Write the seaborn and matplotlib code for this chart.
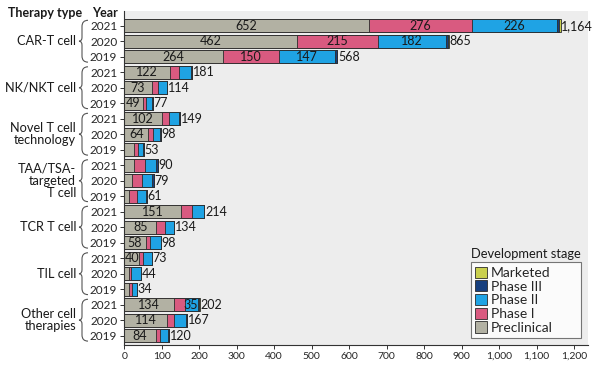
import numpy as np
import pandas as pd
import matplotlib
matplotlib.use("Agg")
import matplotlib.pyplot as plt
import matplotlib.transforms as mtransforms
from matplotlib.path import Path
from matplotlib.patches import Patch, PathPatch
import seaborn as sns

# === Data ===
therapies = ["CAR-T cell", "NK/NKT cell", "Novel T cell\ntechnology",
             "TAA/TSA-\ntargeted\nT cell", "TCR T cell", "TIL cell",
             "Other cell\ntherapies"]
years = ["2021", "2020", "2019"]

preclinical = [652, 462, 264, 122, 73, 49, 102, 64, 26, 25, 21, 14,
               151, 85, 58, 40, 14, 14, 134, 114, 84]
phase1 = [276, 215, 150, 23, 17, 8, 18, 14, 12, 31, 27, 20,
          30, 24, 12, 9, 5, 8, 27, 20, 12]
phase2 = [226, 182, 147, 34, 23, 18, 27, 18, 12, 29, 27, 24,
          32, 24, 28, 24, 25, 12, 35, 32, 22]
phase3 = [6, 5, 6, 2, 1, 2, 2, 2, 3, 5, 4, 3,
          1, 1, 0, 0, 0, 0, 4, 1, 2]
marketed = [4, 1, 1, 0, 0, 0, 0, 0, 0, 0, 0, 0,
            0, 0, 0, 0, 0, 0, 2, 0, 0]
totals = [1164, 865, 568, 181, 114, 77, 149, 98, 53, 90, 79, 61,
          214, 134, 98, 73, 44, 34, 202, 167, 120]

# which inside labels are printed in the original
show_pre = [1, 1, 1, 1, 1, 1, 1, 1, 0, 0, 0, 0,
            1, 1, 1, 1, 0, 0, 1, 1, 1]
show_p1 = [1, 1, 1] + [0] * 18
show_p2 = [1, 1, 1] + [0] * 15 + [1, 0, 0]

colors = {
    "Marketed": "#c9cf4e",
    "Phase III": "#173f7e",
    "Phase II": "#1fa3e4",
    "Phase I": "#d95a80",
    "Preclinical": "#b2b1a3",
}

# === Build table ===
rows = [f"{t}|{y}" for t in therapies for y in years]
df = pd.DataFrame({
    "row": rows,
    "Preclinical": preclinical,
    "Phase I": phase1,
    "Phase II": phase2,
    "Phase III": phase3,
    "Marketed": marketed,
})
stages = ["Preclinical", "Phase I", "Phase II", "Phase III", "Marketed"]
cum = df[stages].cumsum(axis=1)

sns.set_style("white")
plt.rcParams["font.family"] = ["Lato", "DejaVu Sans"]

fig = plt.figure(figsize=(6, 3.73), dpi=100)
ax = fig.add_axes([0.207, 0.0751, 0.773, 0.8954])
ax.set_facecolor("#ededed")

# stacked bars: draw cumulative totals from the top stage down
for stage in stages[::-1]:
    sns.barplot(x=cum[stage], y=df["row"], order=rows, orient="h",
                color=colors[stage], edgecolor="#2b2b2b", linewidth=0.6,
                width=0.84, saturation=1, ax=ax)

# labels inside segments
fs = 9
for i in range(len(rows)):
    if show_pre[i]:
        ax.text(preclinical[i] / 2, i, str(preclinical[i]), ha="center",
                va="center", fontsize=fs, color="#1a1a1a")
    if show_p1[i]:
        ax.text(cum["Preclinical"][i] + phase1[i] / 2, i, str(phase1[i]),
                ha="center", va="center", fontsize=fs, color="#1a1a1a")
    if show_p2[i]:
        ax.text(cum["Phase I"][i] + phase2[i] / 2, i, str(phase2[i]),
                ha="center", va="center", fontsize=fs, color="#1a1a1a")
    ax.text(cum["Marketed"][i] + 2, i, f"{totals[i]:,}", ha="left",
            va="center", fontsize=fs, color="#1a1a1a")

ax.set_xlim(0, 1237)
ax.set_ylim(20.6, -0.95)
ax.set_xticks(range(0, 1300, 100))
ax.set_xticklabels([f"{v:,}" for v in range(0, 1300, 100)], fontsize=7.5)
ax.set_yticks(range(len(rows)))
ax.set_yticklabels(years * len(therapies), fontsize=8.5)
ax.set_xlabel("")
ax.set_ylabel("")
ax.tick_params(axis="both", length=3, width=0.7, color="#333333",
               pad=2, left=True, bottom=True)
for s in ["top", "right"]:
    ax.spines[s].set_visible(False)
for s in ["left", "bottom"]:
    ax.spines[s].set_color("#333333")
    ax.spines[s].set_linewidth(0.8)

# therapy labels and braces
trans = mtransforms.blended_transform_factory(fig.transFigure, ax.transData)
px = lambda v: v / 600
for g, name in enumerate(therapies):
    mid = g * 3 + 1
    ax.text(px(76), mid, name, transform=trans, ha="right", va="center",
            multialignment="right", fontsize=9.2, linespacing=1.0,
            color="#1a1a1a", clip_on=False)
    top, bot = mid - 1.35, mid + 1.35
    verts = [(px(88), top), (px(82), top), (px(82), top + 0.4),
             (px(82), mid - 0.25),
             (px(82), mid), (px(79), mid),
             (px(82), mid), (px(82), mid + 0.25),
             (px(82), bot - 0.4),
             (px(82), bot), (px(88), bot)]
    codes = [Path.MOVETO, Path.CURVE3, Path.CURVE3, Path.LINETO,
             Path.CURVE3, Path.CURVE3, Path.CURVE3, Path.CURVE3,
             Path.LINETO, Path.CURVE3, Path.CURVE3]
    ax.add_patch(PathPatch(Path(verts, codes), transform=trans, fill=False,
                           edgecolor="#555555", linewidth=0.8, clip_on=False))

fig.text(px(8), 1 - 13 / 373, "Therapy type", ha="left", va="center",
         fontsize=9, fontweight="bold", color="#1a1a1a")
fig.text(px(92), 1 - 13 / 373, "Year", ha="left", va="center",
         fontsize=9, fontweight="bold", color="#1a1a1a")

# legend
handles = [Patch(facecolor=colors[s], edgecolor="#2b2b2b", linewidth=0.6,
                 label=s) for s in stages[::-1]]
leg = ax.legend(handles=handles, loc="lower left", mode="expand",
                bbox_to_anchor=(471 / 600, 1 - 338 / 373, 110 / 600, 76 / 373),
                bbox_transform=fig.transFigure, fontsize=10,
                frameon=True, fancybox=False, handlelength=0.85,
                handleheight=0.85, handletextpad=0.3, labelspacing=0.1,
                borderpad=0.3, borderaxespad=0)
leg.get_frame().set_edgecolor("#555555")
leg.get_frame().set_linewidth(0.8)
fig.text(px(471), 1 - 254 / 373, "Development stage", ha="left",
         va="center", fontsize=9.3, color="#1a1a1a")

fig.savefig("out.png", dpi=100)
